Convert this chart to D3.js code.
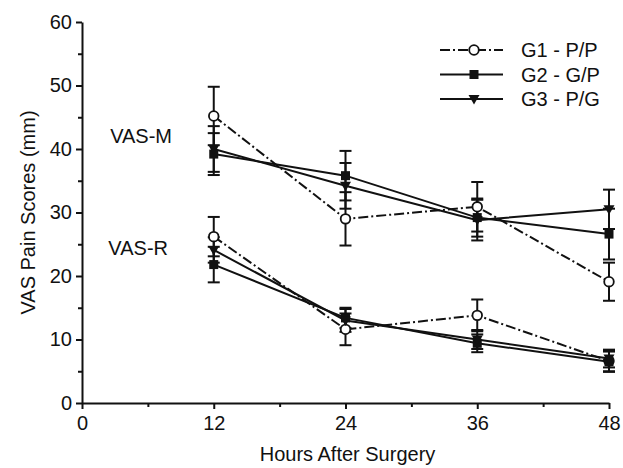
<!DOCTYPE html>
<html>
<head>
<meta charset="utf-8">
<script src="https://cdn.jsdelivr.net/npm/d3@7"></script>
<style>
  body { margin: 0; background: #fff; }
  text { font-family: "Liberation Sans", Arial, sans-serif; fill: #111; }
</style>
</head>
<body>
<svg width="623" height="468"></svg>
<script>
// hours after surgery
const hours = [12, 24, 36, 48];
const groups = ['G1 - P/P', 'G2 - G/P', 'G3 - P/G'];

// VAS-M (movement) means and SE
const vasM_G1 = [45.2, 29.0, 30.9, 19.1], seM_G1 = [4.6, 4.2, 3.9, 3.0];
const vasM_G2 = [39.2, 35.8, 29.2, 26.6], seM_G2 = [3.3, 3.9, 3.0, 4.0];
const vasM_G3 = [40.0, 34.2, 28.8, 30.5], seM_G3 = [3.6, 3.6, 3.2, 3.1];
// VAS-R (rest) means and SE
const vasR_G1 = [26.2, 11.6, 13.8, 6.6], seR_G1 = [3.1, 2.5, 2.5, 1.6];
const vasR_G2 = [21.8, 13.4, 9.4, 6.5], seR_G2 = [2.8, 1.6, 1.4, 1.6];
const vasR_G3 = [24.1, 13.0, 10.0, 7.0], seR_G3 = [2.0, 1.8, 1.5, 1.4];

const xTicks = [0, 12, 24, 36, 48];
const yTicks = [0, 10, 20, 30, 40, 50, 60];

let svg = d3.select('svg');

const margin = {top: 22, right: 14, bottom: 65, left: 82},
    width = +svg.attr('width') - margin.left - margin.right,
    height = +svg.attr('height') - margin.top - margin.bottom;

const fs = '20px';

let g = svg.append('g').attr('transform', `translate(${margin.left}, ${margin.top})`);

let x = d3.scaleLinear().domain([0, 48]).range([0, width]),
    y = d3.scaleLinear().domain([0, 60]).range([height, 0]);

// minor ticks first
g.append('g')
    .attr('transform', `translate(0, ${height})`)
    .call(d3.axisBottom(x).tickValues([6, 18, 30, 42]).tickSize(4).tickFormat(''))
    .call(a => a.select('.domain').remove());
g.append('g')
    .call(d3.axisLeft(y).tickValues([5, 15, 25, 35, 45, 55]).tickSize(4).tickFormat(''))
    .call(a => a.select('.domain').remove());

let xAx = g.append('g')
    .attr('transform', `translate(0, ${height})`)
    .call(d3.axisBottom(x).tickValues(xTicks).tickSize(6).tickSizeOuter(0).tickPadding(7));
let yAx = g.append('g')
    .call(d3.axisLeft(y).tickValues(yTicks).tickSize(6).tickSizeOuter(0).tickPadding(4));

[xAx, yAx].forEach(a => {
  a.selectAll('text').style('font-size', fs).attr('fill', '#111');
  a.selectAll('line, path').attr('stroke', '#111').attr('stroke-width', 2);
});
g.selectAll('.tick line').attr('stroke', '#111').attr('stroke-width', 2);

// axis titles
svg.append('text')
    .attr('x', margin.left + width / 2 + 2).attr('y', 461)
    .attr('text-anchor', 'middle').style('font-size', fs)
    .text('Hours After Surgery');
svg.append('text')
    .attr('transform', `translate(35, ${margin.top + height / 2}) rotate(-90)`)
    .attr('text-anchor', 'middle').style('font-size', fs)
    .text('VAS Pain Scores (mm)');

// panel labels
svg.append('text').attr('x', 172).attr('y', 143).attr('text-anchor', 'end')
    .style('font-size', fs).text('VAS-M');
svg.append('text').attr('x', 168).attr('y', 255).attr('text-anchor', 'end')
    .style('font-size', fs).text('VAS-R');

const series = [
  {g: 0, v: vasM_G1, se: seM_G1}, {g: 1, v: vasM_G2, se: seM_G2}, {g: 2, v: vasM_G3, se: seM_G3},
  {g: 0, v: vasR_G1, se: seR_G1}, {g: 1, v: vasR_G2, se: seR_G2}, {g: 2, v: vasR_G3, se: seR_G3}
];
const dash = ['10,3,2,3', null, null];

const line = d3.line().x((d, i) => x(hours[i])).y(d => y(d));

// error bars
series.forEach(s => {
  let eb = g.append('g').attr('stroke', '#111').attr('stroke-width', 2);
  s.v.forEach((v, i) => {
    const cx = x(hours[i]), lo = y(v - s.se[i]), hi = y(v + s.se[i]);
    eb.append('line').attr('x1', cx).attr('x2', cx).attr('y1', lo).attr('y2', hi);
    eb.append('line').attr('x1', cx - 6).attr('x2', cx + 6).attr('y1', lo).attr('y2', lo);
    eb.append('line').attr('x1', cx - 6).attr('x2', cx + 6).attr('y1', hi).attr('y2', hi);
  });
});

// lines
series.forEach(s => {
  g.append('path')
    .attr('d', line(s.v))
    .attr('fill', 'none')
    .attr('stroke', '#111')
    .attr('stroke-width', 2)
    .attr('stroke-dasharray', dash[s.g]);
});

function marker(sel, gi, cx, cy) {
  if (gi === 0) {
    sel.append('circle').attr('cx', cx).attr('cy', cy).attr('r', 4.8)
      .attr('fill', '#fff').attr('stroke', '#111').attr('stroke-width', 1.8);
  } else if (gi === 1) {
    sel.append('rect').attr('x', cx - 4.5).attr('y', cy - 4.5).attr('width', 9).attr('height', 9)
      .attr('fill', '#111');
  } else {
    sel.append('path').attr('d', `M${cx - 5.5},${cy - 4}L${cx + 5.5},${cy - 4}L${cx},${cy + 5.5}Z`)
      .attr('fill', '#111');
  }
}

// markers
series.forEach(s => {
  let mg = g.append('g');
  s.v.forEach((v, i) => marker(mg, s.g, x(hours[i]), y(v)));
});

// legend
let lg = svg.append('g');
groups.forEach((name, i) => {
  const ly = 50 + i * 24.5;
  lg.append('line').attr('x1', 440).attr('x2', 503).attr('y1', ly).attr('y2', ly)
    .attr('stroke', '#111').attr('stroke-width', 2).attr('stroke-dasharray', dash[i]);
  marker(lg, i, 474, ly);
  lg.append('text').attr('x', 521).attr('y', ly + 7).style('font-size', fs).text(name);
});
</script>
</body>
</html>
